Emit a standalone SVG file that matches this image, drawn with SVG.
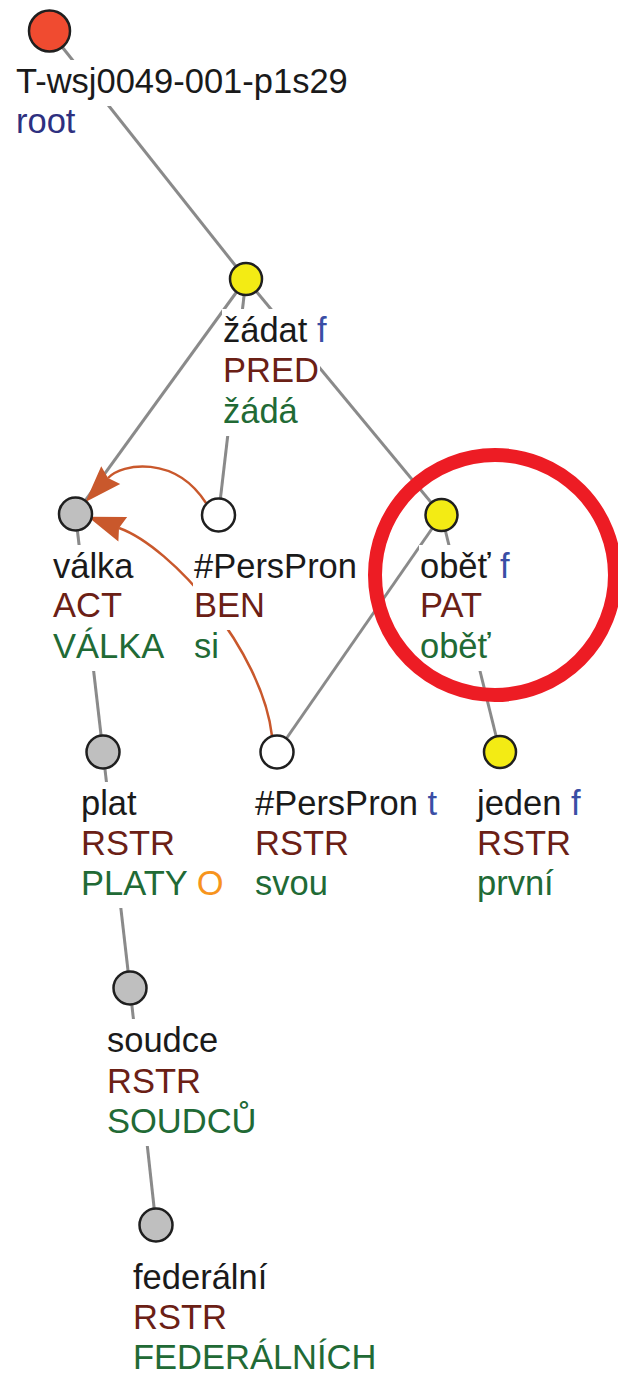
<svg xmlns="http://www.w3.org/2000/svg" width="618" height="1382" viewBox="0 0 618 1382">
<style>
text{font-family:"Liberation Sans",Arial,sans-serif;font-size:34.5px;fill:#1a1a1a}
.fn{fill:#6b2015}
.gr{fill:#216a35}
.bl{fill:#3a4ea5}
.or{fill:#f7941d}
.rt{fill:#2e3080}
.bg{fill:#ffffff}
.e{stroke:#8a8a8a;stroke-width:3;fill:none}
.c{stroke:#c9582c;stroke-width:2.5;fill:none;marker-end:url(#ah)}
.nd{stroke:#1f1f1f;stroke-width:2.5}
.gy{fill:#bfbfbf}
.yl{fill:#f3eb14}
.wh{fill:#ffffff}
</style>
<defs>
<marker id="ah" markerUnits="userSpaceOnUse" markerWidth="44" markerHeight="34" viewBox="-6 -17 44 34" refX="0" refY="0" orient="auto" overflow="visible">
<path d="M33,0 L-4,-13 L0,0 L-4,13 Z" fill="#c9582c"/>
</marker>
</defs>
<rect width="618" height="1382" fill="#ffffff"/>
<g id="connectors">
<line class="e" x1="49.5" y1="31" x2="246" y2="279"/>
<line class="e" x1="246" y1="279" x2="75.5" y2="514"/>
<line class="e" x1="246" y1="279" x2="218.5" y2="515"/>
<line class="e" x1="246" y1="279" x2="441.5" y2="515"/>
<line class="e" x1="441.5" y1="515" x2="277" y2="752"/>
<line class="e" x1="441.5" y1="515" x2="500" y2="752"/>
<line class="e" x1="75.5" y1="514" x2="103" y2="752"/>
<line class="e" x1="103" y1="752" x2="130" y2="988"/>
<line class="e" x1="130" y1="988" x2="156" y2="1225"/>
<path class="c" d="M206,503 C175,455 122,463 108,478"/>
<path class="c" d="M272,736 C262,650 172,547 119,528"/>
</g>
<g id="n-root">
<rect class="bg" x="15" y="60" width="337" height="46"/>
<rect class="bg" x="15" y="100" width="62" height="46"/>
<circle class="nd" cx="49.5" cy="31" r="20.5" fill="#f04b30"/>
<text x="16" y="93">T-wsj0049-001-p1s29</text>
<text class="rt" x="16" y="133">root</text>
</g>
<g id="n-zadat">
<rect class="bg" x="222" y="309" width="106" height="46"/>
<rect class="bg" x="222" y="349" width="98" height="46"/>
<rect class="bg" x="222" y="390" width="77" height="46"/>
<circle class="nd yl" cx="246" cy="279" r="16"/>
<text x="223" y="342">žádat<tspan class="bl"> f</tspan></text>
<text class="fn" x="223" y="382">PRED</text>
<text class="gr" x="223" y="423">žádá</text>
</g>
<g id="n-valka">
<rect class="bg" x="52" y="545" width="83" height="46"/>
<rect class="bg" x="52" y="584" width="71" height="46"/>
<rect class="bg" x="52" y="625" width="113" height="46"/>
<circle class="nd gy" cx="75.5" cy="514" r="16.5"/>
<text x="53" y="578">válka</text>
<text class="fn" x="53" y="617">ACT</text>
<text class="gr" x="53" y="658">VÁLKA</text>
</g>
<g id="n-perspron-ben">
<rect class="bg" x="193" y="545" width="165" height="46"/>
<rect class="bg" x="193" y="584" width="73" height="46"/>
<rect class="bg" x="193" y="625" width="27" height="46"/>
<circle class="nd wh" cx="218.5" cy="515" r="16.5"/>
<text x="194" y="578">#PersPron</text>
<text class="fn" x="194" y="617">BEN</text>
<text class="gr" x="194" y="658">si</text>
</g>
<g id="n-obet">
<rect class="bg" x="419" y="545" width="89" height="46"/>
<rect class="bg" x="419" y="584" width="69" height="46"/>
<rect class="bg" x="419" y="625" width="69" height="46"/>
<circle class="nd yl" cx="441.5" cy="515" r="16"/>
<text x="420" y="578">oběť<tspan class="bl"> f</tspan></text>
<text class="fn" x="420" y="617">PAT</text>
<text class="gr" x="420" y="658">oběť</text>
</g>
<g id="n-plat">
<rect class="bg" x="80" y="782" width="58" height="46"/>
<rect class="bg" x="80" y="822" width="96" height="46"/>
<rect class="bg" x="80" y="862" width="148" height="46"/>
<circle class="nd gy" cx="103" cy="752" r="16.5"/>
<text x="81" y="815">plat</text>
<text class="fn" x="81" y="855">RSTR</text>
<text class="gr" x="81" y="895">PLATY<tspan class="or"> O</tspan></text>
</g>
<g id="n-perspron-rstr">
<rect class="bg" x="254" y="782" width="184" height="46"/>
<rect class="bg" x="254" y="822" width="96" height="46"/>
<rect class="bg" x="254" y="862" width="75" height="46"/>
<circle class="nd wh" cx="277" cy="752" r="16.5"/>
<text x="255" y="815">#PersPron<tspan class="bl"> t</tspan></text>
<text class="fn" x="255" y="855">RSTR</text>
<text class="gr" x="255" y="895">svou</text>
</g>
<g id="n-jeden">
<rect class="bg" x="476" y="782" width="106" height="46"/>
<rect class="bg" x="476" y="822" width="96" height="46"/>
<rect class="bg" x="476" y="862" width="79" height="46"/>
<circle class="nd yl" cx="500" cy="752" r="16"/>
<text x="477" y="815">jeden<tspan class="bl"> f</tspan></text>
<text class="fn" x="477" y="855">RSTR</text>
<text class="gr" x="477" y="895">první</text>
</g>
<g id="n-soudce">
<rect class="bg" x="106" y="1019" width="113" height="46"/>
<rect class="bg" x="106" y="1060" width="96" height="46"/>
<rect class="bg" x="106" y="1100" width="151" height="46"/>
<circle class="nd gy" cx="130" cy="988" r="16.5"/>
<text x="107" y="1052">soudce</text>
<text class="fn" x="107" y="1093">RSTR</text>
<text class="gr" x="107" y="1133">SOUDCŮ</text>
</g>
<g id="n-federalni">
<rect class="bg" x="132" y="1256" width="136" height="46"/>
<rect class="bg" x="132" y="1296" width="96" height="46"/>
<rect class="bg" x="132" y="1336" width="246" height="46"/>
<circle class="nd gy" cx="156" cy="1225" r="16.5"/>
<text x="133" y="1289">federální</text>
<text class="fn" x="133" y="1329">RSTR</text>
<text class="gr" x="133" y="1369">FEDERÁLNÍCH</text>
</g>
<g id="highlight">
<circle cx="495" cy="575" r="120" fill="none" stroke="#ed1c24" stroke-width="14"/>
</g>
</svg>
